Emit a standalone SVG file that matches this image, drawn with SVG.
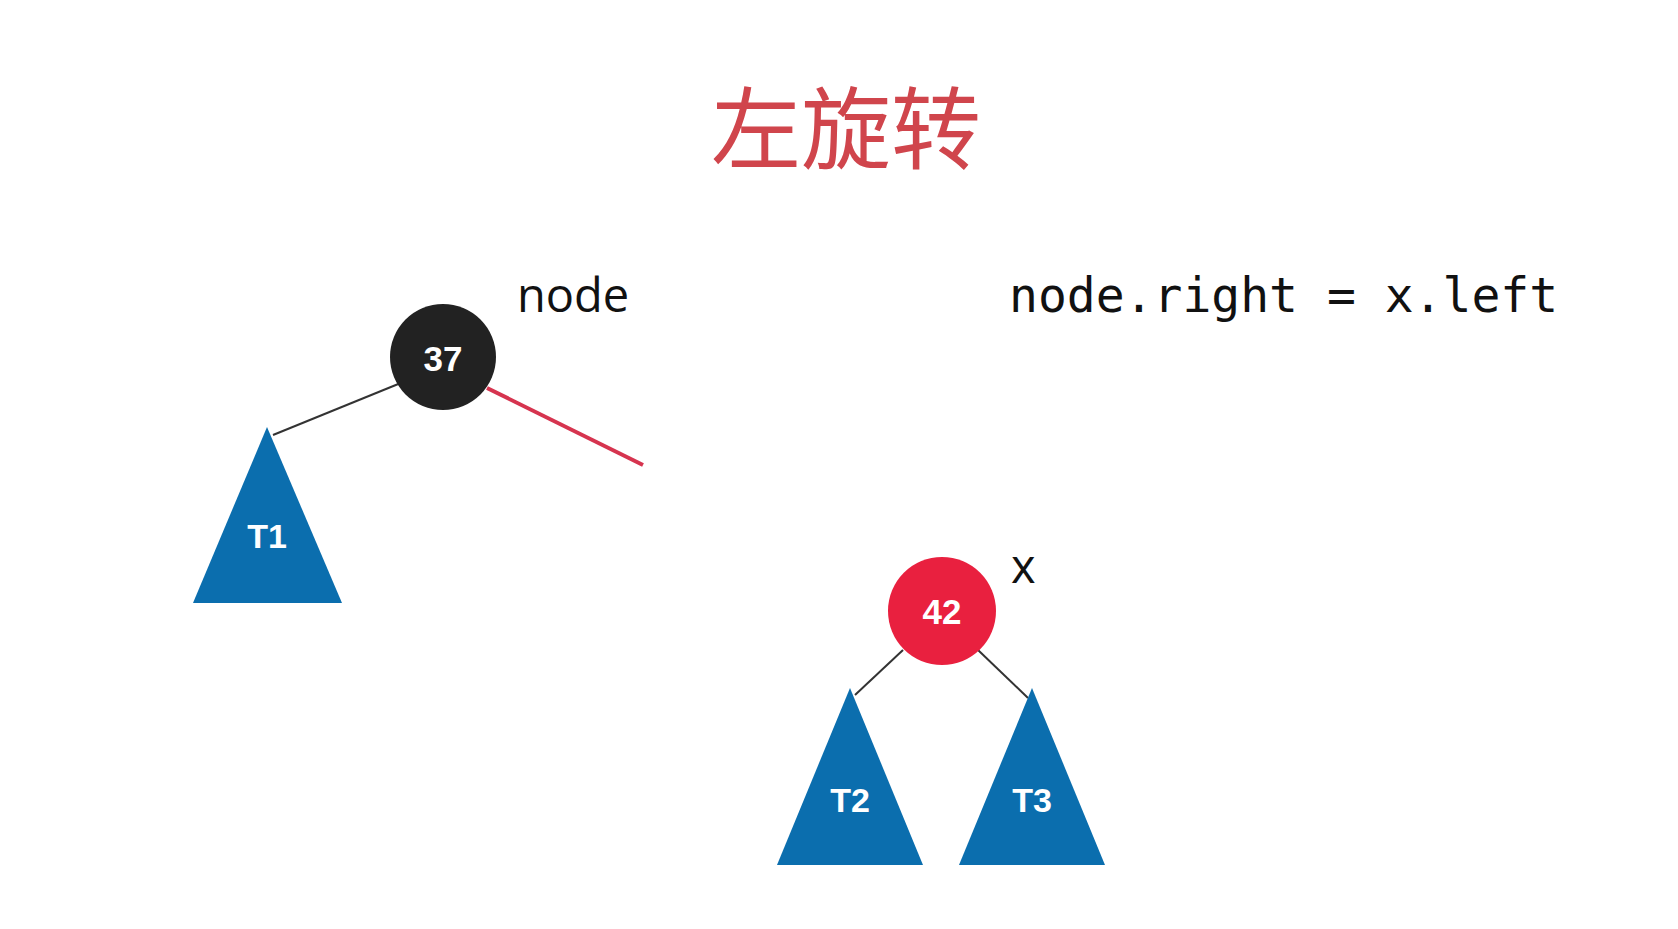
<svg xmlns="http://www.w3.org/2000/svg" width="1678" height="929" viewBox="0 0 1678 929">
<style>
.tri{fill:#0b6eae}
.tl{font-family:"Liberation Sans",Arial,sans-serif;font-weight:bold;font-size:34px;fill:#fff;text-anchor:middle}
.nl{font-family:"Liberation Sans",Arial,sans-serif;font-weight:bold;font-size:35px;fill:#fff;text-anchor:middle}
.lbl{font-family:"Open Sans","DejaVu Sans",sans-serif;font-size:47px;fill:#111}
.code{font-family:"DejaVu Sans Mono","Liberation Mono",monospace;font-size:48px;fill:#111}
.edge{stroke:#333;stroke-width:2;fill:none}
</style>
<rect width="1678" height="929" fill="#fff"/>
<text x="846" y="162" font-family="Noto Sans CJK SC, sans-serif" font-size="90" fill="#d0454c" text-anchor="middle">左旋转</text>
<g id="connectors">
<line class="edge" x1="273" y1="435" x2="413" y2="378"/>
<line x1="487" y1="388" x2="643" y2="465" stroke="#d6344f" stroke-width="4"/>
<line class="edge" x1="855" y1="695" x2="903" y2="650"/>
<line class="edge" x1="978" y1="650" x2="1028" y2="698"/>
</g>
<g id="node37">
<circle cx="443" cy="357" r="53" fill="#222"/>
<text class="nl" x="443" y="371">37</text>
</g>
<g id="node42">
<circle cx="942" cy="611" r="54" fill="#e9203f"/>
<text class="nl" x="942" y="624">42</text>
</g>
<g id="T1">
<polygon class="tri" points="267,427 193,603 342,603"/>
<text class="tl" x="267" y="548">T1</text>
</g>
<g id="T2">
<polygon class="tri" points="850,688 777,865 923,865"/>
<text class="tl" x="850" y="812">T2</text>
</g>
<g id="T3">
<polygon class="tri" points="1032,688 959,865 1105,865"/>
<text class="tl" x="1032" y="812">T3</text>
</g>
<text class="lbl" x="517" y="312">node</text>
<text class="lbl" x="1011" y="583">x</text>
<text class="code" x="1009" y="312">node.right = x.left</text>
</svg>
